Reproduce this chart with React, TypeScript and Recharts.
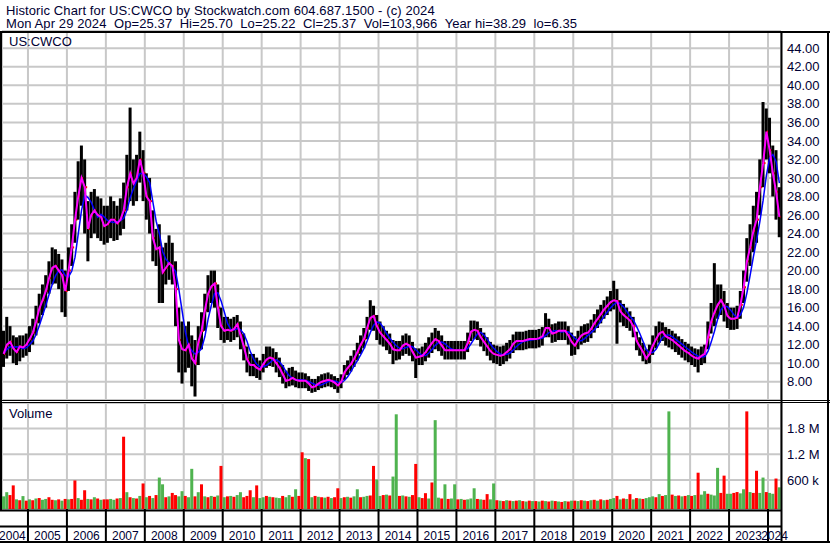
import React from 'react';
import { ComposedChart, Bar, Line, XAxis, YAxis, CartesianGrid } from 'recharts';

const FONT = '"Liberation Sans", Arial, sans-serif';
const TEXT = '#000033';

const YEARS = ['2004', '2005', '2006', '2007', '2008', '2009', '2010', '2011', '2012', '2013', '2014',
  '2015', '2016', '2017', '2018', '2019', '2020', '2021', '2022', '2023', '2024'];

const HEADER_1 = 'Historic Chart for US:CWCO by Stockwatch.com 604.687.1500 - (c) 2024';
const HEADER_2 = 'Mon Apr 29 2024  Op=25.37  Hi=25.70  Lo=25.22  Cl=25.37  Vol=103,966  Year hi=38.29  lo=6.35';

// Monthly values, May 2004 .. Apr 2024 (short moving average, as drawn in magenta)
const CLOSE = [
  11.0, 12.0, 12.3, 11.6, 11.2, 11.8, 11.7, 12.0,
  12.6, 13.3, 14.5, 15.9, 16.8, 17.8, 19.2, 20.3, 20.5, 20.0, 19.5, 17.8,
  20.0, 22.5, 25.5, 28.0, 30.0, 29.0, 24.5, 26.0, 26.5, 26.0, 25.8, 24.8,
  25.0, 25.5, 25.5, 25.1, 25.5, 26.5, 29.0, 30.5, 29.4, 30.0, 32.0, 30.5,
  28.0, 27.5, 23.5, 22.3, 22.5, 19.8, 20.3, 20.8, 20.5, 18.0, 12.5, 11.5,
  11.4, 12.0, 10.5, 10.0, 12.3, 13.5, 15.7, 17.5, 18.3, 18.6, 16.0, 14.0,
  13.5, 13.6, 13.5, 13.7, 14.2, 13.0, 11.8, 10.4, 9.8, 9.8, 9.5, 9.3,
  9.9, 10.4, 10.6, 10.5, 10.0, 9.5, 8.8, 8.1, 8.2, 8.4, 8.2, 8.1,
  8.1, 8.1, 7.8, 7.4, 7.5, 7.8, 8.0, 8.1, 8.2, 8.1, 7.9, 7.6,
  8.0, 9.0, 9.5, 9.9, 10.5, 11.2, 12.0, 12.6, 13.8, 14.9, 15.1, 14.0,
  13.3, 12.9, 12.5, 12.1, 11.5, 11.4, 11.4, 11.9, 12.1, 11.9, 11.2, 10.6,
  10.7, 10.8, 11.2, 11.7, 12.2, 12.6, 12.4, 11.9, 11.4, 11.4, 11.4, 11.4,
  11.4, 11.4, 11.4, 12.2, 13.4, 13.6, 13.5, 12.8, 12.3, 11.8, 11.3, 11.0,
  10.9, 10.8, 10.9, 11.2, 11.5, 12.1, 12.4, 12.4, 12.4, 12.5, 12.6, 12.6,
  12.6, 12.7, 12.9, 13.8, 13.8, 13.2, 13.3, 13.5, 13.5, 13.5, 13.0, 12.3,
  11.9, 12.5, 13.0, 13.2, 13.3, 13.7, 14.3, 14.8, 15.3, 15.8, 16.2, 16.6,
  16.8, 16.7, 15.6, 15.2, 14.9, 14.6, 14.0, 12.4, 11.8, 11.2, 10.5, 11.0,
  11.9, 12.6, 13.2, 13.4, 12.9, 12.7, 12.5, 12.2, 11.9, 11.6, 11.3, 11.1,
  10.8, 10.6, 10.5, 10.8, 11.0, 12.8, 14.5, 15.5, 16.3, 16.8, 16.2, 15.1,
  14.8, 14.8, 14.9, 16.3, 18.2, 21.0, 22.5, 24.3, 25.5, 29.0, 31.6, 35.0,
  33.0, 30.5, 28.5, 25.8,
];

const HIGH = [
  13.5, 15.0, 14.0, 13.0, 12.8, 13.0, 13.0, 13.2,
  14.0, 14.8, 16.2, 17.5, 18.5, 19.5, 21.0, 22.5, 22.3, 21.8, 21.2, 20.0,
  22.5, 25.0, 28.5, 31.8, 33.5, 32.0, 27.5, 28.5, 28.8, 28.0, 27.8, 27.0,
  27.0, 28.0, 27.5, 27.0, 27.8, 29.5, 32.5, 37.6, 32.0, 32.5, 35.0, 33.0,
  30.5, 30.0, 26.5, 24.5, 25.0, 22.5, 23.0, 23.8, 23.0, 21.0, 16.0, 14.5,
  14.0, 14.5, 13.0, 12.5, 14.0, 15.5, 17.5, 19.5, 20.0, 20.0, 18.5, 16.0,
  15.0, 15.0, 14.8, 15.0, 15.2, 14.5, 13.2, 11.8, 11.0, 11.0, 10.6, 10.3,
  11.0, 11.8, 11.8, 11.6, 11.2, 10.6, 9.8, 9.2, 9.5, 9.6, 9.2, 9.0,
  9.0, 8.9, 8.6, 8.3, 8.3, 8.6, 8.8, 8.9, 9.0, 8.8, 8.6, 8.4,
  8.8, 9.8, 10.3, 10.8, 11.4, 12.2, 13.0, 13.8, 15.0, 16.8, 16.2, 15.2,
  14.5, 14.0, 13.5, 13.2, 12.5, 12.4, 12.4, 13.0, 13.2, 13.0, 12.3, 11.6,
  11.6, 11.8, 12.2, 12.8, 13.3, 13.8, 13.5, 13.0, 12.4, 12.4, 12.4, 12.4,
  12.4, 12.4, 12.4, 13.3, 14.6, 14.6, 14.5, 13.8, 13.3, 12.8, 12.3, 12.0,
  11.9, 11.8, 11.9, 12.2, 12.5, 13.1, 13.4, 13.4, 13.4, 13.5, 13.6, 13.6,
  13.6, 13.7, 13.9, 15.4, 14.8, 14.2, 14.3, 14.5, 14.5, 14.5, 14.0, 13.3,
  12.9, 13.5, 14.0, 14.2, 14.3, 14.7, 15.3, 15.8, 16.3, 16.8, 17.2, 17.8,
  18.9, 18.0, 16.8, 16.4, 16.0, 15.6, 15.0, 13.4, 12.8, 12.2, 11.5, 12.0,
  13.0, 14.0, 14.5, 14.4, 13.9, 13.7, 13.5, 13.2, 12.9, 12.6, 12.3, 12.1,
  11.8, 11.6, 11.5, 11.8, 12.0, 14.5, 16.5, 20.8, 18.5, 18.5, 17.8, 16.5,
  16.0, 16.0, 16.2, 17.8, 20.0, 23.5, 25.0, 27.0, 28.5, 32.0, 38.2, 37.5,
  36.5, 33.5, 33.0, 29.0,
];

const LOW = [
  9.6, 10.5, 10.8, 10.0, 9.8, 10.2, 10.6, 10.8,
  11.2, 12.0, 13.0, 14.3, 15.2, 16.0, 17.5, 18.5, 18.6, 18.0, 15.5, 15.0,
  17.8, 20.5, 23.0, 25.5, 27.0, 24.0, 21.0, 23.5, 24.0, 23.5, 23.2, 22.8,
  23.0, 23.5, 23.2, 23.3, 23.8, 24.5, 26.5, 27.5, 27.0, 27.5, 29.5, 27.5,
  25.5, 24.0, 21.0, 20.5, 16.5, 16.5, 18.5, 19.0, 18.5, 14.0, 9.0, 7.8,
  9.0, 9.5, 7.5, 6.4, 9.8, 11.5, 13.5, 15.5, 16.5, 16.0, 13.8, 12.5,
  12.2, 12.5, 12.3, 12.5, 12.8, 11.5, 10.3, 9.0, 8.6, 8.6, 8.4, 8.2,
  9.0, 9.5, 9.7, 9.6, 9.0, 8.5, 7.8, 7.3, 7.5, 7.6, 7.4, 7.3,
  7.3, 7.3, 7.0, 6.8, 6.9, 7.1, 7.3, 7.4, 7.5, 7.4, 7.2, 6.8,
  7.3, 8.2, 8.7, 9.1, 9.6, 10.3, 11.0, 11.6, 12.6, 13.6, 13.5, 12.5,
  12.0, 11.8, 11.4, 11.0, 9.9, 10.3, 10.4, 10.8, 11.0, 10.8, 10.2, 8.4,
  9.8, 9.8, 10.2, 10.6, 11.1, 11.5, 11.3, 10.8, 10.4, 10.4, 10.4, 10.4,
  10.4, 10.4, 10.4, 11.2, 12.4, 12.6, 12.5, 11.8, 11.3, 10.8, 10.3, 10.0,
  9.9, 9.7, 9.9, 10.2, 10.5, 11.1, 11.4, 11.4, 11.4, 11.5, 11.6, 11.6,
  11.6, 11.7, 11.9, 12.8, 12.8, 12.2, 12.3, 12.5, 12.5, 12.5, 12.0, 10.8,
  10.9, 11.5, 12.0, 12.2, 12.3, 12.7, 13.3, 13.8, 14.3, 14.8, 15.2, 15.6,
  15.8, 12.1, 14.4, 14.0, 13.8, 13.5, 12.8, 11.4, 10.8, 10.2, 9.9, 10.0,
  10.9, 11.6, 12.2, 12.4, 11.9, 11.7, 11.5, 11.2, 10.9, 10.6, 10.3, 10.1,
  9.8, 9.6, 9.0, 9.8, 10.0, 11.5, 13.2, 14.0, 14.8, 15.2, 14.5, 13.8,
  13.6, 13.6, 13.7, 14.8, 16.5, 18.8, 20.5, 22.0, 23.0, 26.0, 29.0, 32.0,
  30.5, 28.0, 25.5, 23.6,
];

// Volume in thousands; positive = up (green), negative = down (red)
const VOLUME_K = [
  220, 317, -250, -475, 150, -130, 226, -120,
  150, -130, 170, -181, 140, 160, -200, -140, 130, -150, 120, -160,
  150, -160, -590, 180, -140, -362, 160, -150, 200, -170, 140, -150,
  -150, 160, 140, -170, 180, -1607, 317, -200, 180, -170, 230, -520,
  200, -230, 180, -250, 657, 500, -200, 220, -300, -250, 220, 340,
  -230, 200, 860, -220, 317, -500, 220, -200, 230, -210, 240, -928,
  200, -220, 230, -210, 250, 317, -200, -230, -362, 200, -475, 180,
  200, -230, 210, -200, 190, 180, -230, 200, 250, -210, 385, -230,
  -1245, 1109, -1087, 200, -230, 210, -200, 190, -210, 180, -200, -408,
  180, -200, 210, -190, 220, 385, -200, 210, 230, -240, -928, 611,
  230, -250, 260, -240, 680, 2128, -230, 240, -220, 210, -250, -974,
  200, -180, -294, 170, -543, 1992, 190, -170, 500, -160, 170, 500,
  -150, 160, -140, 150, 170, 408, -160, 150, -140, -272, 150, 520,
  -130, 120, -110, 130, -120, 110, -120, 130, -110, 100, -120, 110,
  -110, 100, -120, 110, -100, 120, -110, 100, -90, 110, -100, 120,
  -120, 110, -130, 120, -110, 130, -140, 120, -150, 130, -140, 160,
  180, -230, 150, -170, 160, -272, 150, -180, 170, -160, 180, 200,
  220, -200, 272, -230, 250, 2196, -260, 230, -240, 220, -230, 250,
  -230, 250, -770, 260, 340, -280, 260, 240, 883, -300, -702, 280,
  280, -300, -320, 290, 385, -2196, 320, -300, -815, 300, 657, -320,
  300, 280, -634, 430,
];

const PRICE_TICKS = [8, 10, 12, 14, 16, 18, 20, 22, 24, 26, 28, 30, 32, 34, 36, 38, 40, 42, 44];
const VOLUME_TICKS = [600000, 1200000, 1800000];
const VOLUME_LABELS = ['600 k', '1.2 M', '1.8 M'];

const MONTHS = CLOSE.length;
const PRICE_DOMAIN: [number, number] = [6.025, 45.867];
const VOL_DOMAIN: [number, number] = [-74000, 2391000];

// January of each year (month index counted from May 2004)
const SEP_TICKS = YEARS.slice(1).map((_, k) => 8 + 12 * k);
const LABEL_TICKS = YEARS.map((_, k) => {
  if (k === 0) return 3.2;
  const s = 8 + 12 * (k - 1);
  const e = Math.min(MONTHS, s + 12);
  return (s + e) / 2;
});
const AXIS_TICKS = [...SEP_TICKS, ...LABEL_TICKS].sort((a, b) => a - b);

const data = CLOSE.map((c, i) => {
  const win = CLOSE.slice(Math.max(0, i - 3), i + 1);
  return {
    t: i + 0.5,
    c,
    hi: HIGH[i],
    lo: LOW[i],
    slow: win.reduce((a, b) => a + b, 0) / win.length,
    v: Math.abs(VOLUME_K[i]) * 1000,
    up: VOLUME_K[i] > 0,
  };
});

const PriceBar = (p: any) => {
  const { x, y, width, height, payload } = p;
  if (!payload || !height) return null;
  const span = payload.hi - payload.lo;
  const cy = y + ((payload.hi - payload.c) / span) * height;
  return (
    <g>
      <rect x={x} y={y} width={width} height={height} fill="#000000" />
      <rect x={x + width - 1} y={cy - 1} width={2} height={2} fill="#ff0000" />
    </g>
  );
};

const VolBar = (p: any) => {
  const { x, y, width, height, payload } = p;
  if (!payload || !height) return null;
  return <rect x={x} y={y} width={width} height={height} fill={payload.up ? '#4fb34f' : '#ff0000'} />;
};

const YearTick = (p: any) => {
  const { x, y, payload } = p;
  const v = payload.value;
  if (SEP_TICKS.indexOf(v) >= 0) {
    return <line x1={x} x2={x} y1={y} y2={y + 34} stroke="#000" strokeWidth={2} />;
  }
  const li = LABEL_TICKS.indexOf(v);
  return (
    <text x={x} y={y + 31} textAnchor="middle" fontSize={12} fill={TEXT} fontFamily={FONT}>
      {YEARS[li]}
    </text>
  );
};

const headerStyle: React.CSSProperties = {
  position: 'absolute',
  left: 6,
  fontSize: 13,
  lineHeight: '13px',
  height: 13,
  letterSpacing: '0.1px',
  whiteSpace: 'pre',
  color: TEXT,
  fontFamily: FONT,
};

export default function App() {
  return (
    <div style={{ position: 'absolute', left: 0, top: 0, width: 830, height: 543, background: '#ffffff', overflow: 'hidden', fontFamily: FONT }}>
      <div style={{ ...headerStyle, top: 3.5 }}>{HEADER_1}</div>
      <div style={{ ...headerStyle, top: 17 }}>{HEADER_2}</div>
      <div style={{ position: 'absolute', left: 0, top: 0 }}>
        <ComposedChart width={830} height={400} data={data} margin={{ top: 31, right: 0, bottom: 0, left: 2 }}>
          <CartesianGrid stroke="#c8c8c8" strokeWidth={2} />
          <XAxis dataKey="t" type="number" domain={[0, MONTHS]} ticks={SEP_TICKS} interval={0} hide allowDataOverflow />
          <YAxis
            orientation="right"
            width={49}
            domain={PRICE_DOMAIN}
            ticks={PRICE_TICKS}
            interval={0}
            allowDataOverflow
            axisLine={false}
            tickLine={false}
            tickSize={0}
            tickMargin={6}
            tickFormatter={(v: number) => v.toFixed(2)}
            tick={{ fontSize: 13, fill: TEXT, fontFamily: FONT }}
          />
          <Bar dataKey={(d: any) => [d.lo, d.hi]} barSize={3} shape={PriceBar} isAnimationActive={false} />
          <Line dataKey="slow" type="linear" stroke="#0000ff" strokeWidth={1.5} dot={false} isAnimationActive={false} />
          <Line dataKey="c" type="linear" stroke="#ff00ff" strokeWidth={2} dot={false} isAnimationActive={false} />
        </ComposedChart>
      </div>
      <div style={{ position: 'absolute', left: 0, top: 403 }}>
        <ComposedChart width={830} height={140} data={data} margin={{ top: 0, right: 0, bottom: 0, left: 2 }}>
          <CartesianGrid stroke="#c8c8c8" strokeWidth={2} xAxisId="g" />
          <XAxis xAxisId="g" dataKey="t" type="number" domain={[0, MONTHS]} ticks={SEP_TICKS} interval={0} hide allowDataOverflow />
          <XAxis
            dataKey="t"
            type="number"
            domain={[0, MONTHS]}
            ticks={AXIS_TICKS}
            interval={0}
            height={34}
            allowDataOverflow
            axisLine={false}
            tickLine={false}
            tickSize={0}
            tickMargin={0}
            tick={YearTick}
          />
          <YAxis
            orientation="right"
            width={49}
            domain={VOL_DOMAIN}
            ticks={VOLUME_TICKS}
            interval={0}
            allowDataOverflow
            axisLine={false}
            tickLine={false}
            tickSize={0}
            tickMargin={6}
            tickFormatter={(v: number) => VOLUME_LABELS[VOLUME_TICKS.indexOf(v)]}
            tick={{ fontSize: 13, fill: TEXT, fontFamily: FONT }}
          />
          <Bar dataKey={(d: any) => [VOL_DOMAIN[0], d.v]} barSize={3} shape={VolBar} isAnimationActive={false} />
        </ComposedChart>
      </div>
      <svg width={830} height={543} style={{ position: 'absolute', left: 0, top: 0, pointerEvents: 'none' }}>
        <g fill={TEXT} fontFamily={FONT} fontSize={13}>
          <text x={9} y={45.5}>US:CWCO</text>
          <text x={9} y={418}>Volume</text>
        </g>
        <g stroke="#000" fill="none">
          <line x1={0} x2={830} y1={32} y2={32} strokeWidth={2} />
          <line x1={1} x2={1} y1={31} y2={511} strokeWidth={2} />
          <line x1={781.5} x2={781.5} y1={31} y2={543} strokeWidth={2} />
          <line x1={828} x2={828} y1={31} y2={543} strokeWidth={2} />
          <line x1={0} x2={830} y1={400.5} y2={400.5} strokeWidth={1} />
          <line x1={0} x2={830} y1={402.5} y2={402.5} strokeWidth={1} />
          <line x1={0} x2={782} y1={510.5} y2={510.5} strokeWidth={2} />
          <line x1={0} x2={782} y1={526.5} y2={526.5} strokeWidth={2} />
          <line x1={0} x2={830} y1={542} y2={542} strokeWidth={2} />
        </g>
      </svg>
    </div>
  );
}
